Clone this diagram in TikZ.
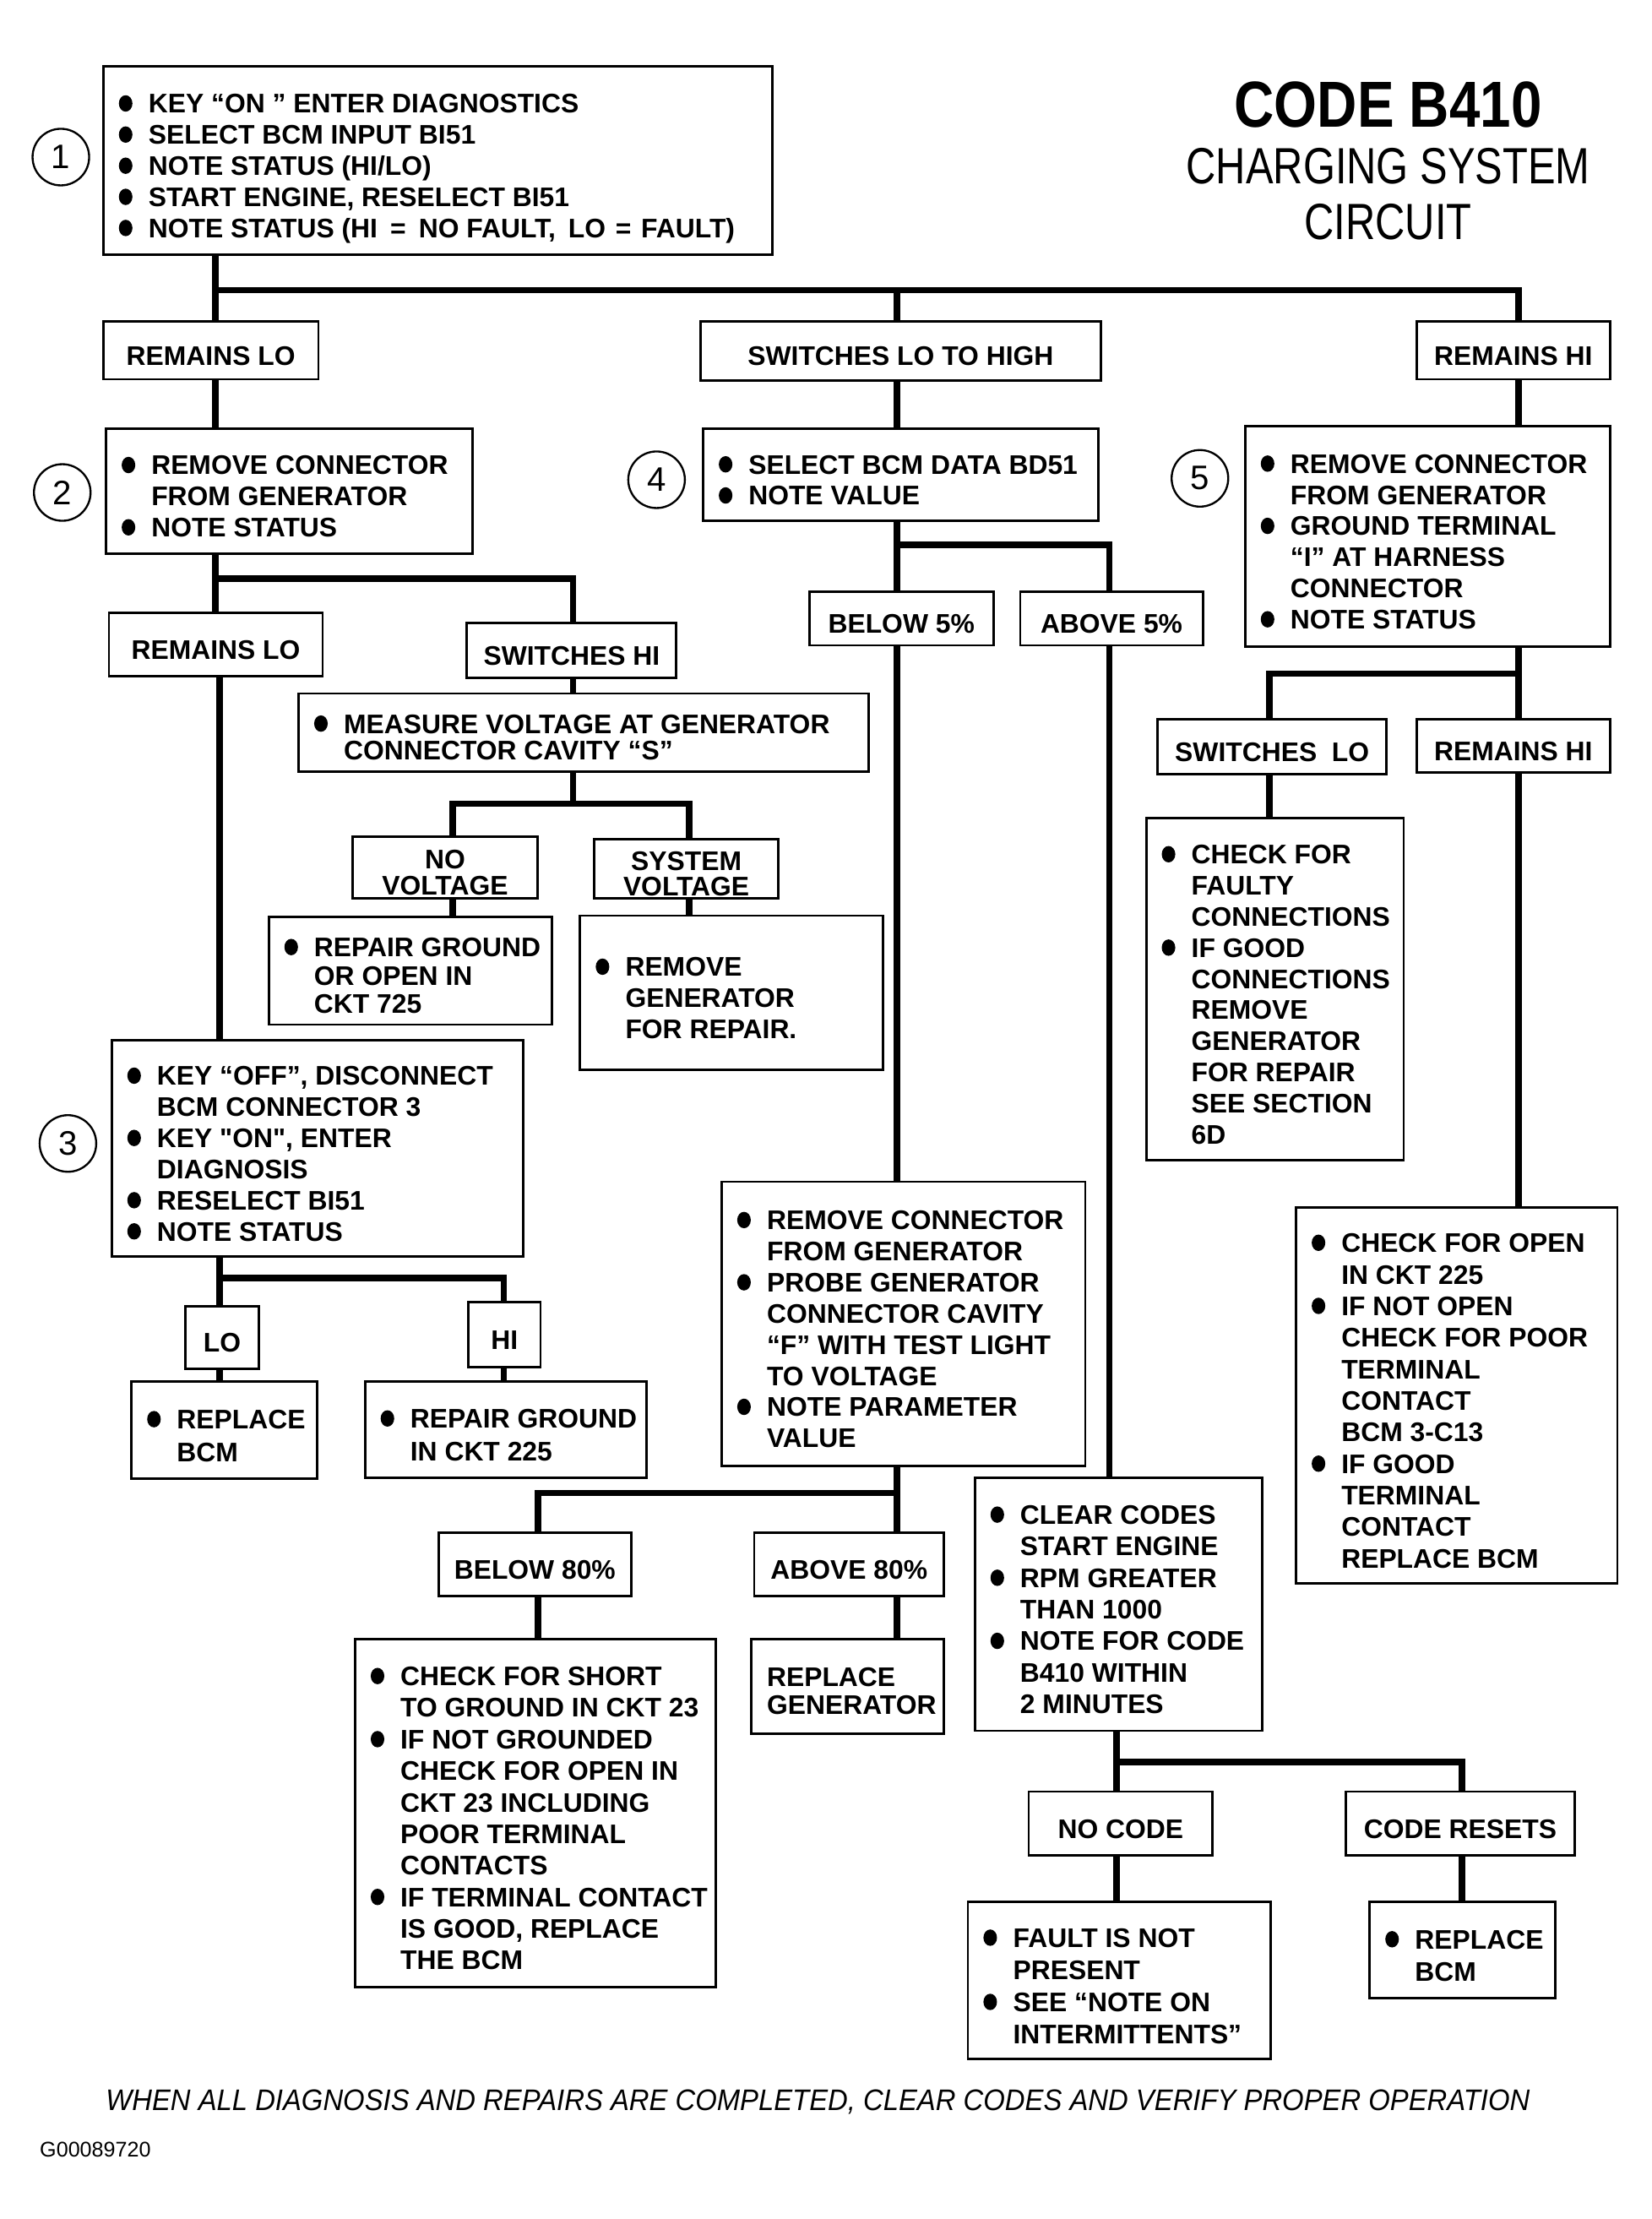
\documentclass[tikz,border=0pt]{standalone}
\usepackage{fontspec}
\setmainfont{Liberation Sans}
\newcommand\bul{\makebox[21pt][l]{\tikz[baseline=0pt]\fill (4.8pt,6.8pt) ellipse [x radius=4.8pt, y radius=5.8pt];}}
\newcommand\ind{\hspace*{21pt}}
\newcommand\dq{{\addfontfeature{Ligatures=TeXOff}"}}
\newcommand\bx[7][22]{%
 \pgfmathsetmacro\bxw{#5-#3}%
 \pgfmathsetmacro\bxh{#6-#4}%
 \pgfmathsetmacro\bxt{#5-#3-22}%
 \node[box, minimum width=\bxw pt, minimum height=\bxh pt] (#2) at (#3,#4) {\fontsize{19}{#1}\selectfont\raisebox{-6pt}[\height][\depth]{\makebox[\bxt pt][l]{\begin{tabular}{@{}l@{}}#7\end{tabular}}}};}
\newcommand\lbx[7][22]{%
 \pgfmathsetmacro\bxw{#5-#3}%
 \pgfmathsetmacro\bxh{#6-#4}%
 \node[box, inner xsep=0pt, minimum width=\bxw pt, minimum height=\bxh pt] (#2) at (#3,#4) {\fontsize{19}{#1}\selectfont\raisebox{-6pt}[\height][\depth]{\begin{tabular}{@{}c@{}}#7\end{tabular}}};}
\begin{document}
\begin{tikzpicture}[x=1pt,y=-1pt,
 box/.style={draw, line width=1.7pt, anchor=north west, inner xsep=11pt, inner ysep=0pt, outer sep=0pt, font=\bfseries},
 conn/.style={line width=4.6pt, line join=miter},
 num/.style={circle, draw, line width=1.4pt, minimum size=40pt, inner sep=0pt, font=\fontsize{24}{24}\selectfont}]
\fill[white] (0,0) rectangle (1167,1568);
\useasboundingbox (0,0) rectangle (1167,1568);

% title
\node[anchor=base] (title) at (981,90) {\fontsize{46}{46}\selectfont\bfseries\scalebox{0.85}[1]{CODE B410}};
\node[anchor=base] (sub1) at (981,130) {\fontsize{36}{36}\selectfont\scalebox{0.81}[1]{CHARGING SYSTEM}};
\node[anchor=base] (sub2) at (981,169) {\fontsize{36}{36}\selectfont\scalebox{0.81}[1]{CIRCUIT}};

% step numbers
\node[num] (c1) at (43,111) {1};
\node[num] (c2) at (44,348) {2};
\node[num] (c3) at (48,808) {3};
\node[num] (c4) at (464,339) {4};
\node[num] (c5) at (848,338) {5};

% boxes
\bx{b1}{73}{47}{546}{180}{\bul KEY “ON ” ENTER DIAGNOSTICS\\ \bul SELECT BCM INPUT BI51\\ \bul NOTE STATUS (HI/LO)\\ \bul START ENGINE, RESELECT BI51\\ \bul NOTE STATUS (HI\hspace{9pt}=\hspace{9pt}NO FAULT,\hspace{9pt}LO\hspace{7pt}=\hspace{7pt}FAULT)}
\lbx{r1}{73}{227}{225}{268}{REMAINS LO}
\lbx{sw}{495}{227}{778}{269}{SWITCHES LO TO HIGH}
\lbx{rh}{1001}{227}{1138}{268}{REMAINS HI}

\bx{b2}{75}{303}{334}{391}{\bul REMOVE CONNECTOR\\ \ind FROM GENERATOR\\ \bul NOTE STATUS}
\bx{b4}{497}{303}{776}{368}{\bul SELECT BCM DATA BD51\\ \bul NOTE VALUE}
\bx{b5}{880}{301}{1138}{457}{\bul REMOVE CONNECTOR\\ \ind FROM GENERATOR\\ \bul GROUND TERMINAL\\ \ind “I” AT HARNESS\\ \ind CONNECTOR\\ \bul NOTE STATUS}

\lbx{rl2}{77}{433}{228}{478}{REMAINS LO}
\lbx{shi}{330}{440}{478}{479}{SWITCHES HI}
\bx[18]{meas}{211}{490}{614}{545}{\bul MEASURE VOLTAGE AT GENERATOR\\ \ind CONNECTOR CAVITY “S”}
\lbx[17]{nov}{249}{591}{380}{635}{NO\\VOLTAGE}
\lbx[17]{sysv}{420}{593}{550}{635}{SYSTEM\\VOLTAGE}
\bx[20]{rg}{190}{648}{390}{724}{\bul REPAIR GROUND\\ \ind OR OPEN IN\\ \ind CKT 725}
\bx{rgen}{410}{647}{624}{756}{\bul REMOVE\\ \ind GENERATOR\\ \ind FOR REPAIR.}

\bx{b3}{79}{735}{370}{888}{\bul KEY “OFF”, DISCONNECT\\ \ind BCM CONNECTOR 3\\ \bul KEY \dq ON\dq , ENTER\\ \ind DIAGNOSIS\\ \bul RESELECT BI51\\ \bul NOTE STATUS}
\lbx{lo}{131}{923}{183}{967}{LO}
\lbx{hi}{331}{920}{382}{966}{HI}
\bx[23]{rbcm}{93}{976}{224}{1045}{\bul REPLACE\\ \ind BCM}
\bx[23]{rg225}{258}{976}{457}{1044}{\bul REPAIR GROUND\\ \ind IN CKT 225}

\lbx{b5p}{572}{418}{702}{456}{BELOW 5\%}
\lbx{a5p}{721}{418}{850}{456}{ABOVE 5\%}
\bx{rc}{510}{835}{767}{1036}{\bul REMOVE CONNECTOR\\ \ind FROM GENERATOR\\ \bul PROBE GENERATOR\\ \ind CONNECTOR CAVITY\\ \ind “F” WITH TEST LIGHT\\ \ind TO VOLTAGE\\ \bul NOTE PARAMETER\\ \ind VALUE}
\lbx{b80}{310}{1083}{446}{1128}{BELOW 80\%}
\lbx{a80}{533}{1083}{667}{1128}{ABOVE 80\%}
\bx[22.3]{cs}{251}{1158}{506}{1404}{\bul CHECK FOR SHORT\\ \ind TO GROUND IN CKT 23\\ \bul IF NOT GROUNDED\\ \ind CHECK FOR OPEN IN\\ \ind CKT 23 INCLUDING\\ \ind POOR TERMINAL\\ \ind CONTACTS\\ \bul IF TERMINAL CONTACT\\ \ind IS GOOD, REPLACE\\ \ind THE BCM}
\bx[20]{rgenr}{531}{1158}{667}{1225}{REPLACE\\ GENERATOR}
\bx[22.3]{cc}{689}{1044}{892}{1223}{\bul CLEAR CODES\\ \ind START ENGINE\\ \bul RPM GREATER\\ \ind THAN 1000\\ \bul NOTE FOR CODE\\ \ind B410 WITHIN\\ \ind 2 MINUTES}
\lbx{nc}{727}{1266}{857}{1311}{NO CODE}
\lbx{cr}{951}{1266}{1113}{1311}{CODE RESETS}
\bx[22.7]{fault}{684}{1344}{898}{1455}{\bul FAULT IS NOT\\ \ind PRESENT\\ \bul SEE “NOTE ON\\ \ind INTERMITTENTS”}
\bx[23]{rbcm2}{968}{1344}{1099}{1412}{\bul REPLACE\\ \ind BCM}

\lbx{swlo}{818}{508}{980}{547}{SWITCHES\ \ LO}
\lbx{rh2}{1001}{508}{1138}{546}{REMAINS HI}
\bx{cf}{810}{578}{992}{820}{\bul CHECK FOR\\ \ind FAULTY\\ \ind CONNECTIONS\\ \bul IF GOOD\\ \ind CONNECTIONS\\ \ind REMOVE\\ \ind GENERATOR\\ \ind FOR REPAIR\\ \ind SEE SECTION\\ \ind 6D}
\bx[22.3]{co}{916}{853}{1143}{1119}{\bul CHECK FOR OPEN\\ \ind IN CKT 225\\ \bul IF NOT OPEN\\ \ind CHECK FOR POOR\\ \ind TERMINAL\\ \ind CONTACT\\ \ind BCM 3-C13\\ \bul IF GOOD\\ \ind TERMINAL\\ \ind CONTACT\\ \ind REPLACE BCM}

% junctions
\coordinate (t1) at (152,205); \coordinate (t1m) at (634,205); \coordinate (t1r) at (1073,205);
\coordinate (t2) at (152,409); \coordinate (t2r) at (405,409);
\coordinate (t3) at (405,568); \coordinate (t3l) at (320,568); \coordinate (t3r) at (487,568);
\coordinate (t4) at (155,903); \coordinate (t4r) at (356,903);
\coordinate (t5) at (634,385); \coordinate (t5r) at (784,385);
\coordinate (t6) at (634,1055); \coordinate (t6l) at (380,1055);
\coordinate (t7) at (789,1245); \coordinate (t7r) at (1033,1245);
\coordinate (t8) at (1073,476); \coordinate (t8l) at (897,476);

% connectors
\draw[conn] (b1.south -| t1) -- (r1.north -| t1);
\draw[conn] (t1) -- (t1r) -- (rh.north -| t1r);
\draw[conn] (t1m) -- (sw.north -| t1m);
\draw[conn] (r1.south -| t1) -- (b2.north -| t1);
\draw[conn] (sw.south -| t1m) -- (b4.north -| t1m);
\draw[conn] (rh.south -| t1r) -- (b5.north -| t1r);

\draw[conn] (b2.south -| t2) -- (rl2.north -| t2);
\draw[conn] (t2) -- (t2r) -- (shi.north -| t2r);
\draw[conn] (shi.south -| t2r) -- (meas.north -| t2r);
\draw[conn] (meas.south -| t3) -- (t3);
\draw[conn] (nov.north -| t3l) -- (t3l) -- (t3r) -- (sysv.north -| t3r);
\draw[conn] (nov.south -| t3l) -- (rg.north -| t3l);
\draw[conn] (sysv.south -| t3r) -- (rgen.north -| t3r);

\draw[conn] (rl2.south -| t4) -- (b3.north -| t4);
\draw[conn] (b3.south -| t4) -- (lo.north -| t4);
\draw[conn] (t4) -- (t4r) -- (hi.north -| t4r);
\draw[conn] (lo.south -| t4) -- (rbcm.north -| t4);
\draw[conn] (hi.south -| t4r) -- (rg225.north -| t4r);

\draw[conn] (b4.south -| t5) -- (b5p.north -| t5);
\draw[conn] (t5) -- (t5r) -- (a5p.north -| t5r);
\draw[conn] (b5p.south -| t5) -- (rc.north -| t5);
\draw[conn] (a5p.south -| t5r) -- (cc.north -| t5r);

\draw[conn] (rc.south -| t6) -- (a80.north -| t6);
\draw[conn] (t6) -- (t6l) -- (b80.north -| t6l);
\draw[conn] (b80.south -| t6l) -- (cs.north -| t6l);
\draw[conn] (a80.south -| t6) -- (rgenr.north -| t6);

\draw[conn] (cc.south -| t7) -- (nc.north -| t7);
\draw[conn] (t7) -- (t7r) -- (cr.north -| t7r);
\draw[conn] (nc.south -| t7) -- (fault.north -| t7);
\draw[conn] (cr.south -| t7r) -- (rbcm2.north -| t7r);

\draw[conn] (b5.south -| t8) -- (rh2.north -| t8);
\draw[conn] (t8) -- (t8l) -- (swlo.north -| t8l);
\draw[conn] (swlo.south -| t8l) -- (cf.north -| t8l);
\draw[conn] (rh2.south -| t8) -- (co.north -| t8);

% footer
\node[anchor=base] (note) at (578,1491) {\fontsize{21}{21}\selectfont\itshape\scalebox{0.933}[1]{WHEN ALL DIAGNOSIS AND REPAIRS ARE COMPLETED, CLEAR CODES AND VERIFY PROPER OPERATION}};
\node[anchor=base west, inner sep=0pt] (gid) at (28,1524) {\fontsize{15}{15}\selectfont G00089720};
\end{tikzpicture}
\end{document}
